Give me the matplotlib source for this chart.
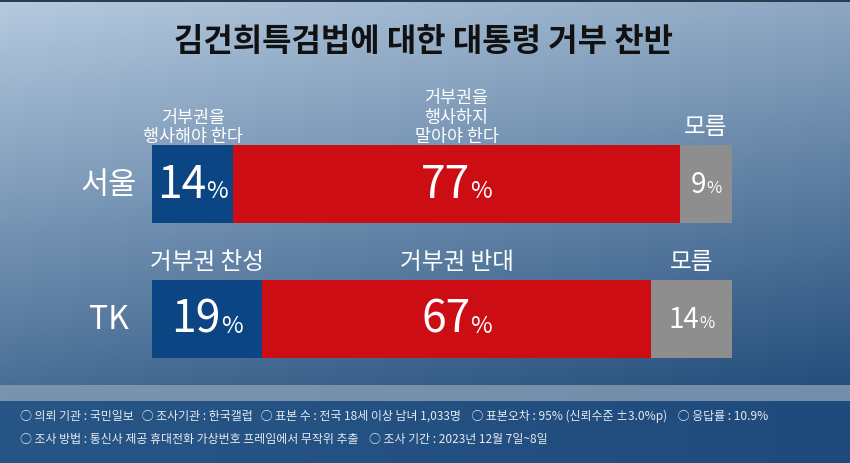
import numpy as np
import matplotlib
matplotlib.use("Agg")
import matplotlib.pyplot as plt
from matplotlib.offsetbox import TextArea, HPacker, AnnotationBbox
from matplotlib.colors import to_rgb

plt.rcParams['font.family'] = ['Noto Sans CJK KR', 'DejaVu Sans']

# ---- data ----
title = "김건희특검법에 대한 대통령 거부 찬반"
regions = ["서울", "TK"]
support = [14, 19]      # 거부권 행사해야 / 찬성
oppose = [77, 67]       # 행사하지 말아야 / 반대
unknown = [9, 14]       # 모름
header_seoul = ["거부권을\n행사해야 한다", "거부권을\n행사하지\n말아야 한다", "모름"]
header_tk = ["거부권 찬성", "거부권 반대", "모름"]
footer1 = ("○ 의뢰 기관 : 국민일보   ○ 조사기관 : 한국갤럽   ○ 표본 수 : 전국 18세 이상 남녀 1,033명    "
           "○ 표본오차 : 95% (신뢰수준 ±3.0%p)    ○ 응답률 : 10.9%")
footer2 = "○ 조사 방법 : 통신사 제공 휴대전화 가상번호 프레임에서 무작위 추출    ○ 조사 기간 : 2023년 12월 7일~8일"

colors = ["#0c4584", "#cc0d14", "#8e8e8e"]

W, H = 850, 464
fig = plt.figure(figsize=(W / 100, H / 100), dpi=100)

# ---- background ----
bg = fig.add_axes([0, 0, 1, 1])
bg.set_xlim(0, W)
bg.set_ylim(H, 0)
bg.axis("off")
tl, tr = np.array(to_rgb("#b5cadf")), np.array(to_rgb("#8ea8c3"))
bl, br = np.array(to_rgb("#4a6f96")), np.array(to_rgb("#244e7c"))
ny, nx = 120, 200
u = np.linspace(0, 1, nx)[None, :, None]
v = np.linspace(0, 1, ny)[:, None, None]
grad = (1 - v) * ((1 - u) * tl + u * tr) + v * ((1 - u) * bl + u * br)
bg.imshow(grad, extent=[0, W, 386, 0], aspect="auto", interpolation="bilinear", zorder=0)
band = (1 - u[0]) * np.array(to_rgb("#7b94ae")) + u[0] * np.array(to_rgb("#738eab"))
bg.imshow(band[None, :, :], extent=[0, W, 402, 386], aspect="auto", interpolation="bilinear", zorder=0)
foot = (1 - u[0]) * np.array(to_rgb("#275686")) + u[0] * np.array(to_rgb("#1f4b7c"))
bg.imshow(foot[None, :, :], extent=[0, W, H, 402], aspect="auto", interpolation="bilinear", zorder=0)
bg.imshow(np.array([[to_rgb("#2c3d50")]]), extent=[0, W, 3, 0], aspect="auto", zorder=1)

# ---- title ----
fig.text(423 / W, 1 - 42 / H, title, ha="center", va="center", fontsize=23,
         fontweight="bold", color="#111111")

# ---- bars ----
left_px, right_px, top_px, bot_px = 152, 732, 146, 359
ax = fig.add_axes([left_px / W, 1 - bot_px / H, (right_px - left_px) / W, (bot_px - top_px) / H])
ax.set_xlim(0, 100)
bh = 0.578
ax.set_ylim(-bh / 2, 1 + bh / 2)
ax.axis("off")
ax.patch.set_alpha(0)

ypos = [1, 0]
for i, y in enumerate(ypos):
    vals = [support[i], oppose[i], unknown[i]]
    start = 0
    heads = header_seoul if i == 0 else header_tk
    for j, val in enumerate(vals):
        ax.barh(y, val, left=start, height=bh, color=colors[j], edgecolor="none")
        cx = start + val / 2
        big = 32 if j < 2 else 20
        small = 17 if j < 2 else 12
        num = TextArea(str(val), textprops=dict(color="white", fontsize=big))
        pct = TextArea("%", textprops=dict(color="white", fontsize=small))
        box = HPacker(children=[num, pct], align="baseline", pad=0, sep=0)
        ab = AnnotationBbox(box, (cx, y), xycoords="data", box_alignment=(0.5, 0.5),
                            frameon=False, pad=0)
        ax.add_artist(ab)
        # headers
        if i == 0:
            if j < 2:
                ax.annotate(heads[j], (cx, y + bh / 2), xytext=(0, 0), textcoords="offset points",
                            ha="center", va="bottom", fontsize=12.5, color="white",
                            linespacing=1.1)
            else:
                ax.annotate(heads[j], (cx, y + bh / 2), xytext=(0, 5), textcoords="offset points",
                            ha="center", va="bottom", fontsize=17, color="white")
        else:
            ax.annotate(heads[j], (cx, y + bh / 2), xytext=(0, 5), textcoords="offset points",
                        ha="center", va="bottom", fontsize=17, color="white")
        start += val
    ax.annotate(regions[i], (0, y), xytext=(-31, 0), textcoords="offset points",
                ha="center", va="center", fontsize=22 if i == 0 else 23, color="white")

# ---- footer ----
fig.text(20 / W, 1 - 416 / H, footer1, ha="left", va="center", fontsize=8.6, color="#e4ebf2")
fig.text(20 / W, 1 - 440 / H, footer2, ha="left", va="center", fontsize=8.6, color="#e4ebf2")

fig.savefig("out.png", dpi=100)
